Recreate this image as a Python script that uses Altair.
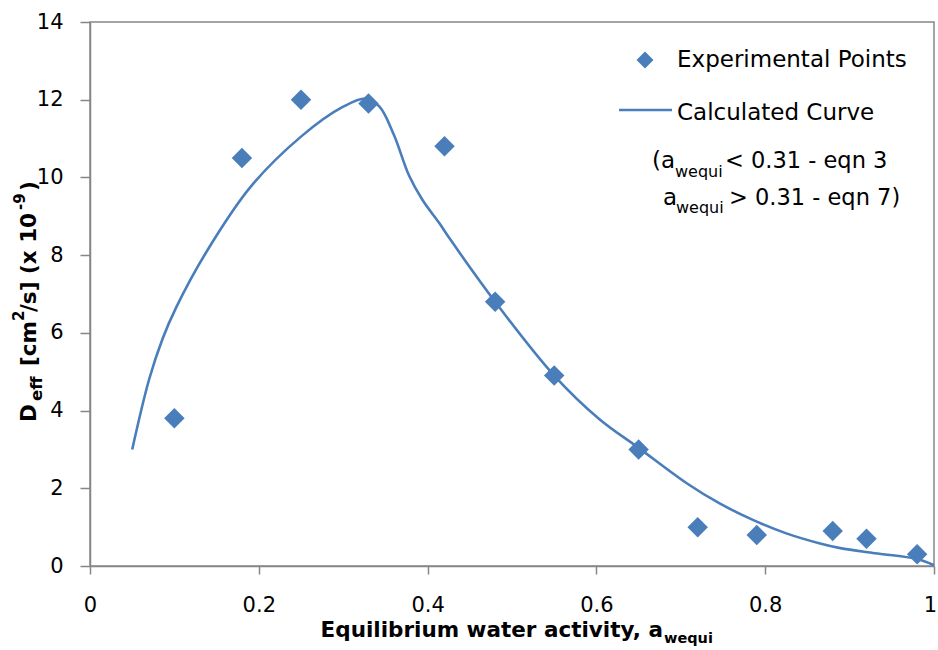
import altair as alt
import pandas as pd

# Experimental effective diffusivity vs equilibrium water activity
exp_aw = [0.10, 0.18, 0.25, 0.33, 0.42, 0.48, 0.55, 0.65, 0.72, 0.79, 0.88, 0.92, 0.98]
exp_deff = [3.8, 10.5, 12.0, 11.9, 10.8, 6.8, 4.9, 3.0, 1.0, 0.8, 0.9, 0.7, 0.3]

# Calculated curve (eqn 3 below 0.31, eqn 7 above)
calc_aw = [0.05, 0.07, 0.086, 0.102, 0.137, 0.19, 0.25, 0.30, 0.327, 0.343, 0.36,
           0.378, 0.394, 0.414, 0.427, 0.48, 0.55, 0.604, 0.65, 0.707, 0.746,
           0.786, 0.825, 0.865, 0.889, 0.93, 0.98, 1.0]
calc_deff = [3.0, 4.8, 5.85, 6.65, 8.05, 9.75, 11.05, 11.82, 12.03, 11.82, 11.1,
             10.05, 9.42, 8.82, 8.4, 6.8, 4.9, 3.77, 3.04, 2.13, 1.61,
             1.18, 0.84, 0.58, 0.46, 0.33, 0.18, 0.02]

x_ticks = [0, 0.2, 0.4, 0.6, 0.8, 1.0]
y_ticks = [0, 2, 4, 6, 8, 10, 12, 14]

FONT = "DejaVu Sans"
BLUE = "#4a7ebb"
GRAY = "#868686"
LEFT, TOP = 90, 22
W, H = 844, 544

points_df = pd.DataFrame({"aw": exp_aw, "deff": exp_deff})
curve_df = pd.DataFrame({"aw": calc_aw, "deff": calc_deff})

x_scale = alt.Scale(domain=[0, 1], nice=False, zero=False)
y_scale = alt.Scale(domain=[0, 14], nice=False)

x_axis = alt.Axis(values=x_ticks, format=".1~f", title=None, grid=False,
                  domainColor=GRAY, domainWidth=1.5, tickColor=GRAY, tickWidth=1.5,
                  tickSize=8, labelPadding=20, labelFont=FONT, labelFontSize=21,
                  labelColor="black", labelFlush=False,
                  labelOffset={"condition": {"test": "datum.value == 1", "value": -4},
                               "value": 0})
y_axis = alt.Axis(values=y_ticks, title=None, grid=False,
                  domainColor=GRAY, domainWidth=1.5, tickColor=GRAY, tickWidth=1.5,
                  tickSize=10, labelPadding=17, labelFont=FONT, labelFontSize=21,
                  labelColor="black")

curve = alt.Chart(curve_df).mark_line(
    color=BLUE, strokeWidth=2.6, interpolate="catmull-rom"
).encode(
    x=alt.X("aw:Q", scale=x_scale, axis=x_axis),
    y=alt.Y("deff:Q", scale=y_scale, axis=y_axis),
)

points = alt.Chart(points_df).mark_point(
    shape="diamond", filled=True, size=420, color=BLUE, opacity=1
).encode(
    x=alt.X("aw:Q", scale=x_scale),
    y=alt.Y("deff:Q", scale=y_scale),
)


def label(txt, px, py, size=21, bold=False, align="left", angle=0):
    """Text placed at absolute page pixel (px, py) on its baseline."""
    return alt.Chart(alt.Data(values=[{}])).mark_text(
        text=txt, align=align, baseline="alphabetic", angle=angle,
        font=FONT, fontSize=size, fontWeight="bold" if bold else "normal",
        color="black",
    ).encode(x=alt.value(px - LEFT), y=alt.value(py - TOP))


texts = [
    # x-axis title
    label("Equilibrium water activity, a", 663, 637, size=21.5, bold=True, align="right"),
    label("wequi", 664, 643, size=14.5, bold=True),
    # y-axis title (rotated)
    label("D", 36, 422, size=21.5, bold=True, angle=270),
    label("eff", 42, 401, size=16.5, bold=True, angle=270),
    label("[cm", 36, 366, size=21.5, bold=True, angle=270),
    label("2", 24, 321, size=15, bold=True, angle=270),
    label("/s] (x 10", 36, 312, size=21.5, bold=True, angle=270),
    label("-9", 25, 210, size=15, bold=True, angle=270),
    label(")", 36, 191, size=21.5, bold=True, angle=270),
    # legend entries
    label("Experimental Points", 677, 67, size=23),
    label("Calculated Curve", 677, 120, size=23),
    label("(a", 652, 168, size=23),
    label("wequi", 675, 177, size=16),
    label("< 0.31 - eqn 3", 725, 168, size=22.5),
    label("a", 663, 205, size=23),
    label("wequi", 676, 213, size=16),
    label("> 0.31 - eqn 7)", 729, 205, size=22.5),
]

legend_diamond = alt.Chart(alt.Data(values=[{}])).mark_point(
    shape="diamond", filled=True, size=290, color=BLUE, opacity=1
).encode(x=alt.value(645 - LEFT), y=alt.value(60 - TOP))

legend_line = alt.Chart(alt.Data(values=[{}])).mark_rule(
    color=BLUE, strokeWidth=2.6
).encode(x=alt.value(619 - LEFT), x2=alt.value(672 - LEFT), y=alt.value(110 - TOP))

chart = alt.layer(curve, points, legend_diamond, legend_line, *texts).properties(
    width=W, height=H,
    autosize=alt.AutoSizeParams(type="none"),
    padding={"left": LEFT, "top": TOP, "right": 938 - LEFT - W, "bottom": 650 - TOP - H},
    background="white",
).configure_view(
    stroke=GRAY, strokeWidth=1.5
)

chart.save("out.html", embed_options={"renderer": "svg", "actions": False})
